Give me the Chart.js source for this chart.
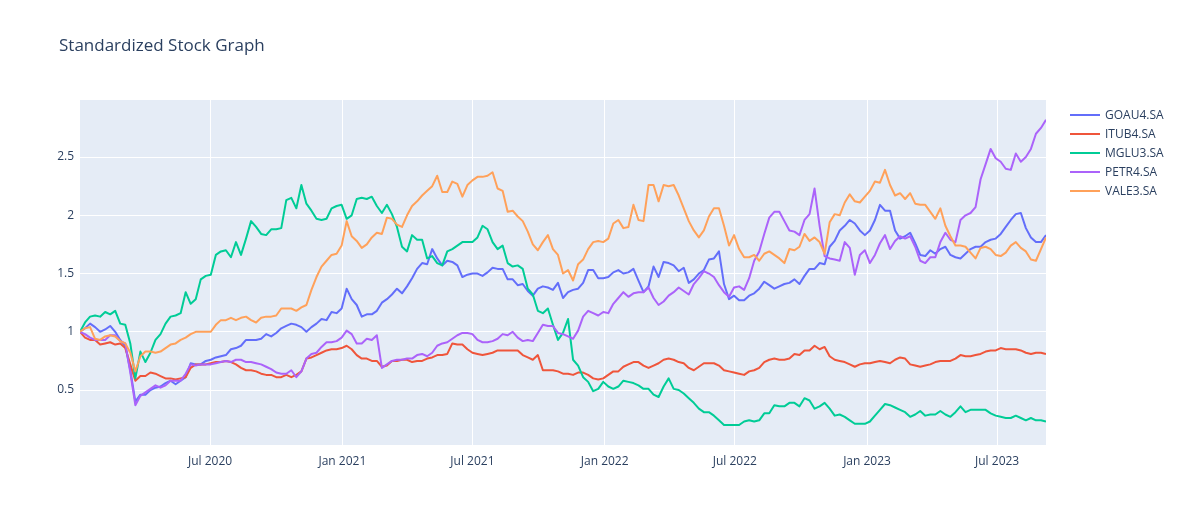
<!DOCTYPE html>
<html>
<head>
<meta charset="utf-8">
<title>Standardized Stock Graph</title>
<script src="https://cdn.jsdelivr.net/npm/chart.js@4.4.0/dist/chart.umd.min.js"></script>
<style>
    html, body { margin: 0; padding: 0; background: #fff; }
    #wrap { position: relative; width: 1181px; height: 525px; }
    #stockChart { position: absolute; left: 0; top: 0; }
    #title {
        position: absolute; left: 59px; top: 33px;
        font: 17px/23px "Open Sans", sans-serif; color: #2a3f5f;
    }
</style>
</head>
<body>
<div id="wrap">
    <canvas id="stockChart" width="1181" height="525"></canvas>
    <div id="title">Standardized Stock Graph</div>
</div>
<script>
// --- data (one sample per week) ---
const tickers = ['GOAU4.SA', 'ITUB4.SA', 'MGLU3.SA', 'PETR4.SA', 'VALE3.SA'];
const lineColors = ['#636efa', '#ef553b', '#00cc96', '#ab63fa', '#ffa15a'];

const startDate = '2020-01-02';
const stepDays = 7;

const goau4 = [
    1.0, 1.03, 1.07, 1.04, 1.0, 1.02, 1.05, 1.0, 0.93, 0.88, 0.67, 0.4, 0.46, 0.46, 0.5, 0.52, 0.53, 0.56, 0.58, 0.55,
    0.58, 0.61, 0.73, 0.72, 0.72, 0.75, 0.76, 0.78, 0.79, 0.8, 0.85, 0.86, 0.88, 0.93, 0.93, 0.93, 0.94, 0.98, 0.96,
    0.99, 1.03, 1.05, 1.07, 1.06, 1.04, 1.0, 1.04, 1.07, 1.11, 1.1, 1.17, 1.16, 1.2, 1.37, 1.28, 1.23, 1.13, 1.15, 1.15,
    1.18, 1.25, 1.28, 1.32, 1.37, 1.33, 1.39, 1.46, 1.54, 1.59, 1.58, 1.71, 1.63, 1.57, 1.61, 1.6, 1.57, 1.47,
    1.49, 1.5, 1.5, 1.48, 1.51, 1.55, 1.54, 1.54, 1.45, 1.45, 1.4, 1.41, 1.35, 1.31, 1.37, 1.39, 1.38, 1.36, 1.42, 1.29,
    1.34, 1.36, 1.37, 1.42, 1.53, 1.53, 1.46, 1.46, 1.47, 1.51, 1.53, 1.5, 1.51, 1.54, 1.44, 1.34, 1.39, 1.56, 1.47,
    1.6, 1.59, 1.57, 1.52, 1.55, 1.42, 1.45, 1.5, 1.53, 1.62, 1.63, 1.69, 1.41, 1.28, 1.31, 1.27, 1.27, 1.31, 1.33, 1.37,
    1.43, 1.4, 1.37, 1.39, 1.41, 1.42, 1.45, 1.41, 1.48, 1.54, 1.54, 1.59, 1.58, 1.73, 1.78, 1.87, 1.91, 1.96,
    1.93, 1.87, 1.83, 1.87, 1.96, 2.09, 2.04, 2.04, 1.87, 1.8, 1.82, 1.85, 1.76, 1.66, 1.65, 1.7, 1.67, 1.71, 1.73, 1.66,
    1.64, 1.63, 1.67, 1.71, 1.73, 1.73, 1.77, 1.79, 1.8, 1.84, 1.9, 1.96, 2.01, 2.02, 1.89, 1.81, 1.77, 1.77, 1.83
];

const itub4 = [
    1.0, 0.95, 0.93, 0.93, 0.89, 0.9, 0.91, 0.89, 0.9, 0.86, 0.72, 0.58, 0.62, 0.62, 0.65, 0.64, 0.62, 0.6, 0.6, 0.59,
    0.6, 0.61, 0.69, 0.72, 0.72, 0.72, 0.73, 0.74, 0.74, 0.75, 0.74, 0.72, 0.69, 0.67, 0.67, 0.66, 0.64, 0.63, 0.63,
    0.61, 0.61, 0.63, 0.61, 0.63, 0.66, 0.77, 0.78, 0.8, 0.82, 0.84, 0.85, 0.85, 0.86, 0.88, 0.85, 0.8, 0.77, 0.77, 0.75,
    0.75, 0.7, 0.71, 0.75, 0.75, 0.76, 0.76, 0.74, 0.75, 0.75, 0.77, 0.78, 0.8, 0.8, 0.81, 0.9, 0.89, 0.89,
    0.85, 0.82, 0.81, 0.8, 0.81, 0.82, 0.84, 0.84, 0.84, 0.84, 0.84, 0.8, 0.78, 0.76, 0.8, 0.67, 0.67, 0.67, 0.66, 0.64,
    0.64, 0.63, 0.65, 0.65, 0.63, 0.6, 0.59, 0.6, 0.63, 0.66, 0.66, 0.7, 0.72, 0.74, 0.74, 0.71, 0.69, 0.71, 0.73,
    0.76, 0.77, 0.76, 0.74, 0.73, 0.69, 0.67, 0.7, 0.73, 0.73, 0.73, 0.71, 0.67, 0.66, 0.65, 0.64, 0.63, 0.66, 0.67, 0.69,
    0.74, 0.76, 0.77, 0.76, 0.76, 0.77, 0.81, 0.8, 0.84, 0.84, 0.88, 0.85, 0.87, 0.79, 0.76, 0.75, 0.74, 0.72,
    0.7, 0.72, 0.73, 0.73, 0.74, 0.75, 0.74, 0.73, 0.76, 0.78, 0.77, 0.72, 0.71, 0.7, 0.71, 0.72, 0.74, 0.75, 0.75, 0.75,
    0.77, 0.8, 0.79, 0.79, 0.8, 0.81, 0.83, 0.84, 0.84, 0.86, 0.85, 0.85, 0.85, 0.84, 0.82, 0.81, 0.82, 0.82, 0.81
];

const mglu3 = [
    1.0, 1.08, 1.13, 1.14, 1.13, 1.17, 1.15, 1.18, 1.07, 1.06, 0.9, 0.6, 0.83, 0.74, 0.82, 0.93, 0.98, 1.07, 1.13, 1.14,
    1.16, 1.34, 1.24, 1.28, 1.45, 1.48, 1.49, 1.66, 1.69, 1.7, 1.64, 1.77, 1.66, 1.8, 1.95, 1.9, 1.84, 1.83, 1.88,
    1.88, 1.89, 2.13, 2.15, 2.06, 2.26, 2.1, 2.04, 1.97, 1.96, 1.97, 2.06, 2.08, 2.09, 1.97, 2.0, 2.14, 2.15, 2.14, 2.16,
    2.08, 2.02, 2.09, 2.01, 1.9, 1.73, 1.69, 1.83, 1.79, 1.79, 1.63, 1.65, 1.59, 1.57, 1.69, 1.71, 1.74, 1.77,
    1.77, 1.77, 1.81, 1.91, 1.88, 1.77, 1.71, 1.74, 1.59, 1.56, 1.57, 1.54, 1.37, 1.32, 1.18, 1.16, 1.2, 1.06, 0.93, 0.99,
    1.11, 0.76, 0.71, 0.61, 0.57, 0.49, 0.51, 0.57, 0.53, 0.51, 0.53, 0.58, 0.57, 0.56, 0.54, 0.51, 0.51, 0.46, 0.44,
    0.53, 0.6, 0.51, 0.5, 0.47, 0.43, 0.39, 0.34, 0.31, 0.31, 0.28, 0.24, 0.2, 0.2, 0.2, 0.2, 0.23, 0.24, 0.23, 0.24,
    0.3, 0.3, 0.37, 0.36, 0.36, 0.39, 0.39, 0.36, 0.43, 0.41, 0.34, 0.36, 0.39, 0.34, 0.28, 0.29, 0.27, 0.24,
    0.21, 0.21, 0.21, 0.23, 0.28, 0.33, 0.38, 0.37, 0.35, 0.33, 0.31, 0.27, 0.29, 0.32, 0.28, 0.29, 0.29, 0.32, 0.29, 0.27,
    0.31, 0.36, 0.31, 0.33, 0.33, 0.33, 0.33, 0.3, 0.28, 0.27, 0.26, 0.26, 0.28, 0.26, 0.24, 0.26, 0.24, 0.24, 0.23
];

const petr4 = [
    1.0, 0.98, 0.95, 0.93, 0.93, 0.93, 0.97, 0.97, 0.92, 0.9, 0.65, 0.37, 0.45, 0.48, 0.51, 0.54, 0.52, 0.54, 0.58, 0.58,
    0.58, 0.64, 0.72, 0.71, 0.72, 0.72, 0.72, 0.73, 0.74, 0.75, 0.74, 0.76, 0.76, 0.74, 0.74, 0.73, 0.72, 0.7, 0.68,
    0.65, 0.64, 0.64, 0.67, 0.61, 0.66, 0.77, 0.81, 0.82, 0.87, 0.91, 0.91, 0.92, 0.95, 1.01, 0.98, 0.9, 0.9, 0.94, 0.93,
    0.97, 0.69, 0.72, 0.75, 0.76, 0.76, 0.77, 0.77, 0.8, 0.81, 0.79, 0.82, 0.88, 0.9, 0.91, 0.94, 0.97, 0.99,
    0.99, 0.98, 0.93, 0.91, 0.91, 0.92, 0.94, 0.98, 0.97, 1.0, 0.95, 0.92, 0.93, 0.92, 0.99, 1.06, 1.05, 1.05, 0.99, 0.98,
    0.96, 0.94, 1.01, 1.13, 1.18, 1.16, 1.14, 1.17, 1.16, 1.24, 1.29, 1.34, 1.3, 1.33, 1.34, 1.34, 1.38, 1.29, 1.23,
    1.26, 1.31, 1.34, 1.38, 1.35, 1.32, 1.41, 1.46, 1.52, 1.5, 1.47, 1.4, 1.34, 1.3, 1.38, 1.39, 1.36, 1.46, 1.61, 1.69,
    1.84, 1.98, 2.03, 2.03, 1.95, 1.87, 1.86, 1.83, 1.96, 2.01, 2.23, 1.91, 1.65, 1.63, 1.62, 1.61, 1.77, 1.72,
    1.49, 1.66, 1.7, 1.59, 1.66, 1.76, 1.83, 1.71, 1.78, 1.82, 1.8, 1.82, 1.73, 1.61, 1.59, 1.64, 1.64, 1.77, 1.85, 1.79,
    1.77, 1.96, 2.0, 2.02, 2.07, 2.31, 2.44, 2.57, 2.49, 2.46, 2.4, 2.39, 2.53, 2.46, 2.5, 2.57, 2.7, 2.75, 2.82
];

const vale3 = [
    1.0, 1.03, 1.04, 0.94, 0.93, 0.96, 0.97, 0.96, 0.92, 0.9, 0.82, 0.66, 0.79, 0.83, 0.83, 0.82, 0.83, 0.86, 0.89, 0.9,
    0.93, 0.95, 0.98, 1.0, 1.0, 1.0, 1.0, 1.06, 1.1, 1.1, 1.12, 1.1, 1.12, 1.13, 1.1, 1.08, 1.12, 1.13, 1.13,
    1.14, 1.2, 1.2, 1.2, 1.18, 1.21, 1.23, 1.36, 1.47, 1.56, 1.61, 1.66, 1.67, 1.74, 1.95, 1.82, 1.78, 1.72, 1.75, 1.81,
    1.85, 1.84, 1.98, 1.97, 1.92, 1.9, 2.0, 2.08, 2.12, 2.17, 2.21, 2.25, 2.34, 2.2, 2.2, 2.29, 2.27, 2.16,
    2.26, 2.3, 2.33, 2.33, 2.34, 2.37, 2.23, 2.21, 2.03, 2.04, 1.99, 1.95, 1.86, 1.75, 1.7, 1.77, 1.83, 1.71, 1.66, 1.5,
    1.53, 1.44, 1.58, 1.62, 1.71, 1.77, 1.78, 1.77, 1.8, 1.93, 1.96, 1.89, 1.9, 2.09, 1.96, 1.95, 2.26, 2.26, 2.12,
    2.26, 2.25, 2.26, 2.17, 2.06, 1.95, 1.87, 1.81, 1.87, 1.99, 2.06, 2.06, 1.91, 1.74, 1.83, 1.71, 1.64, 1.64, 1.66, 1.61,
    1.67, 1.69, 1.66, 1.63, 1.59, 1.71, 1.7, 1.73, 1.84, 1.78, 1.81, 1.77, 1.67, 1.94, 2.01, 2.0, 2.11, 2.18,
    2.12, 2.11, 2.16, 2.21, 2.29, 2.28, 2.39, 2.26, 2.17, 2.19, 2.14, 2.19, 2.1, 2.09, 2.09, 2.03, 1.97, 2.06, 1.91, 1.82,
    1.74, 1.74, 1.73, 1.68, 1.63, 1.72, 1.73, 1.71, 1.66, 1.65, 1.68, 1.74, 1.77, 1.72, 1.69, 1.62, 1.61, 1.71, 1.81
];

const xTickDates = ['2020-07-01', '2021-01-01', '2021-07-01', '2022-01-01', '2022-07-01', '2023-01-01', '2023-07-01'];
const xTickLabels = ['Jul 2020', 'Jan 2021', 'Jul 2021', 'Jan 2022', 'Jul 2022', 'Jan 2023', 'Jul 2023'];
const yTicks = [0.5, 1, 1.5, 2, 2.5];
const yTickLabels = ['0.5', '1', '1.5', '2', '2.5'];
const yRange = [0.028, 2.99];

// --- build chart ---
const DAY = 86400000;
const t0 = Date.parse(startDate);
const seriesList = [goau4, itub4, mglu3, petr4, vale3];
const tickTimes = xTickDates.map(d => Date.parse(d));

const toPoints = values => values.map((v, i) => ({ x: t0 + i * stepDays * DAY, y: v }));

const datasets = seriesList.map((values, i) => ({
    label: tickers[i],
    data: toPoints(values),
    borderColor: lineColors[i],
    backgroundColor: lineColors[i],
    borderWidth: 2,
    borderJoinStyle: 'round',
    pointRadius: 0,
    tension: 0,
    fill: false,
    order: seriesList.length - 1 - i
}));

const plotBg = {
    id: 'plotBg',
    beforeDraw(chart) {
        const { ctx, chartArea: a } = chart;
        ctx.save();
        ctx.fillStyle = '#e5ecf6';
        ctx.fillRect(a.left, a.top, a.right - a.left, a.bottom - a.top);
        ctx.restore();
    }
};

// plotly-style legend to the right of the plot
const sideLegend = {
    id: 'sideLegend',
    afterDraw(chart) {
        const { ctx } = chart;
        ctx.save();
        ctx.font = '12px "Open Sans", sans-serif';
        ctx.textBaseline = 'middle';
        chart.data.datasets.forEach((ds, i) => {
            const y = 115 + i * 19;
            ctx.strokeStyle = ds.borderColor;
            ctx.lineWidth = 2;
            ctx.beginPath();
            ctx.moveTo(1070, y);
            ctx.lineTo(1100, y);
            ctx.stroke();
            ctx.fillStyle = '#2a3f5f';
            ctx.fillText(ds.label, 1105, y + 1);
        });
        ctx.restore();
    }
};

const lastTime = t0 + (goau4.length - 1) * stepDays * DAY;

new Chart(document.getElementById('stockChart'), {
    type: 'line',
    data: { datasets },
    plugins: [plotBg, sideLegend],
    options: {
        responsive: false,
        animation: false,
        parsing: false,
        normalized: true,
        layout: { padding: { left: 0, top: 100, right: 135, bottom: 0 } },
        plugins: {
            legend: { display: false },
            title: { display: false },
            tooltip: { enabled: false }
        },
        scales: {
            x: {
                type: 'linear',
                min: t0,
                max: lastTime,
                afterFit: scale => { scale.height = 80; },
                afterBuildTicks: scale => { scale.ticks = tickTimes.map(v => ({ value: v })); },
                grid: { color: '#ffffff', lineWidth: 1, drawTicks: false },
                border: { display: false },
                ticks: {
                    padding: 9,
                    color: '#2a3f5f',
                    font: { family: 'Open Sans', size: 12 },
                    maxRotation: 0,
                    autoSkip: false,
                    callback: value => xTickLabels[tickTimes.indexOf(value)] || ''
                }
            },
            y: {
                type: 'linear',
                min: yRange[0],
                max: yRange[1],
                afterFit: scale => { scale.width = 80; },
                afterBuildTicks: scale => { scale.ticks = yTicks.map(v => ({ value: v })); },
                grid: { color: '#ffffff', lineWidth: 1, drawTicks: false },
                border: { display: false },
                ticks: {
                    padding: 6,
                    color: '#2a3f5f',
                    font: { family: 'Open Sans', size: 12 },
                    callback: value => yTickLabels[yTicks.indexOf(value)] || ''
                }
            }
        }
    }
});
</script>
</body>
</html>
